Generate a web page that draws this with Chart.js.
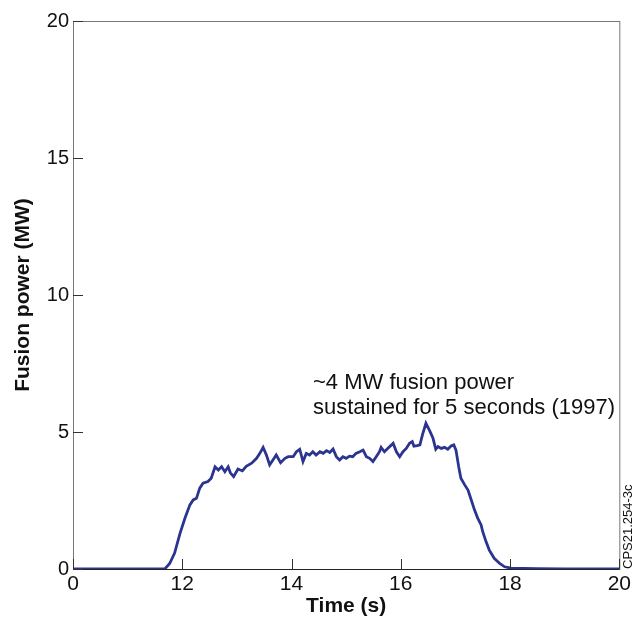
<!DOCTYPE html>
<html>
<head>
<meta charset="utf-8">
<script src="https://cdn.jsdelivr.net/npm/chart.js@4.4.0/dist/chart.umd.min.js"></script>
<style>
  html, body { margin: 0; padding: 0; background: #fff; }
  #wrap { width: 634px; height: 619px; position: relative; }
</style>
</head>
<body>
<div id="wrap"><canvas id="chart" width="634" height="619"></canvas></div>
<script>
// time axis (s) and fusion power (MW)
const timeS = [10, 11.68, 11.77, 11.86, 11.96, 12.05, 12.14, 12.2, 12.26, 12.32, 12.38, 12.47, 12.53,
  12.6, 12.66, 12.72, 12.78, 12.84, 12.88, 12.94, 13.02, 13.1, 13.17, 13.27, 13.36, 13.42, 13.48,
  13.54, 13.6, 13.66, 13.72, 13.8, 13.88, 13.94, 14.03, 14.09, 14.15, 14.21, 14.27, 14.33, 14.39,
  14.45, 14.52, 14.58, 14.64, 14.7, 14.76, 14.82, 14.88, 14.94, 15.0, 15.06, 15.12, 15.18, 15.25,
  15.31, 15.37, 15.43, 15.49, 15.55, 15.61, 15.64, 15.7, 15.76, 15.83, 15.86, 15.92, 15.98, 16.04,
  16.1, 16.16, 16.21, 16.24, 16.3, 16.35, 16.4, 16.46, 16.53, 16.59, 16.64, 16.68, 16.74, 16.8,
  16.86, 16.92, 16.97, 17.01, 17.06, 17.1, 17.17, 17.23, 17.29, 17.35, 17.41, 17.47, 17.5, 17.56,
  17.62, 17.71, 17.81, 17.9, 18.02, 18.5, 19, 20];
const powerMW = [0, 0, 0.2, 0.58, 1.31, 1.86, 2.34, 2.52, 2.58, 2.95, 3.13, 3.19, 3.31,
  3.73, 3.61, 3.73, 3.55, 3.73, 3.51, 3.37, 3.65, 3.58, 3.75, 3.86, 4.04, 4.22, 4.44,
  4.16, 3.8, 3.98, 4.16, 3.88, 4.04, 4.1, 4.1, 4.28, 4.37, 3.92, 4.22, 4.16, 4.28,
  4.16, 4.28, 4.22, 4.32, 4.25, 4.38, 4.1, 3.98, 4.1, 4.04, 4.12, 4.1, 4.22, 4.28,
  4.34, 4.1, 4.04, 3.92, 4.1, 4.28, 4.44, 4.28, 4.4, 4.53, 4.59, 4.28, 4.1, 4.28,
  4.4, 4.59, 4.65, 4.48, 4.5, 4.53, 4.92, 5.32, 5.04, 4.77, 4.37, 4.47, 4.4, 4.44,
  4.37, 4.49, 4.53, 4.34, 3.73, 3.31, 3.07, 2.88, 2.52, 2.15, 1.85, 1.61, 1.36, 1.0,
  0.69, 0.39, 0.2, 0.08, 0.03, 0.01, 0, 0];

// axis ticks: the time axis starts at a broken "0"
const xTicks = [10, 12, 14, 16, 18, 20];
const xTickLabels = ['0', '12', '14', '16', '18', '20'];
const yTicks = [0, 5, 10, 15, 20];

const annotationLines = ['~4 MW fusion power', 'sustained for 5 seconds (1997)'];
const figureCode = 'CPS21.254-3c';

const FONT = 'Liberation Sans, Arial, sans-serif';

//draws box frame, inward ticks, annotation and figure code
const framePlugin = {
  id: 'frame',
  afterDatasetsDraw(chart) {
    const { ctx, chartArea: a, scales } = chart;
    ctx.save();
    ctx.lineWidth = 1;
    ctx.strokeStyle = '#777';
    ctx.strokeRect(a.left + 0.5, a.top + 0.5, a.right - a.left, a.bottom - a.top);
    ctx.strokeStyle = '#222';
    ctx.beginPath();
    ctx.moveTo(a.left, a.bottom + 0.5);
    ctx.lineTo(a.right, a.bottom + 0.5);
    ctx.stroke();

    // inward tick marks
    ctx.strokeStyle = '#333';
    ctx.beginPath();
    xTicks.forEach(v => {
      const x = Math.round(scales.x.getPixelForValue(v)) + 0.5;
      ctx.moveTo(x, a.bottom);
      ctx.lineTo(x, a.bottom - 10);
    });
    yTicks.forEach(v => {
      const y = Math.round(scales.y.getPixelForValue(v)) + 0.5;
      ctx.moveTo(a.left, y);
      ctx.lineTo(a.left + 10, y);
    });
    ctx.stroke();

    // annotation
    ctx.fillStyle = '#111';
    ctx.font = '22px ' + FONT;
    ctx.textAlign = 'left';
    ctx.textBaseline = 'alphabetic';
    ctx.fillText(annotationLines[0], 313, 389);
    ctx.fillText(annotationLines[1], 313, 414);

    // figure code, rotated
    ctx.font = '13px ' + FONT;
    ctx.translate(632, 569);
    ctx.rotate(-Math.PI / 2);
    ctx.textAlign = 'left';
    ctx.fillText(figureCode, 0, 0);
    ctx.restore();
  }
};

const ctx = document.getElementById('chart').getContext('2d');
new Chart(ctx, {
  type: 'line',
  data: {
    datasets: [{
      label: 'Fusion power',
      data: timeS.map((t, i) => ({ x: t, y: powerMW[i] })),
      borderColor: '#2b3590',
      borderWidth: 2.8,
      pointRadius: 0,
      tension: 0,
      fill: false,
    }]
  },
  options: {
    responsive: false,
    animation: false,
    layout: { padding: { top: 21, right: 13, left: 0, bottom: 0 } },
    plugins: {
      legend: { display: false },
      tooltip: { enabled: false },
    },
    scales: {
      x: {
        type: 'linear',
        min: 10,
        max: 20,
        afterBuildTicks: (scale) => { scale.ticks = xTicks.map(v => ({ value: v })); },
        afterFit: (scale) => { scale.height = 50; },
        grid: { display: false, drawTicks: false },
        border: { display: false },
        ticks: {
          color: '#111',
          padding: 3,
          font: { size: 21, family: FONT },
          maxRotation: 0,
          autoSkip: false,
          callback: (v) => xTickLabels[xTicks.indexOf(v)],
        },
        title: {
          display: true,
          text: 'Time (s)',
          color: '#111',
          font: { size: 21, weight: 'bold', family: FONT },
          padding: { top: 0, bottom: 0 },
        },
      },
      y: {
        min: 0,
        max: 20,
        afterBuildTicks: (scale) => { scale.ticks = yTicks.map(v => ({ value: v })); },
        afterFit: (scale) => { scale.width = 73; },
        grid: { display: false, drawTicks: false },
        border: { display: false },
        ticks: {
          color: '#111',
          padding: 4,
          font: { size: 20, family: FONT },
        },
        title: {
          display: true,
          text: 'Fusion power (MW)',
          color: '#111',
          font: { size: 21, weight: 'bold', family: FONT },
          padding: { top: 11, bottom: 0 },
        },
      },
    },
  },
  plugins: [framePlugin],
});
</script>
</body>
</html>
